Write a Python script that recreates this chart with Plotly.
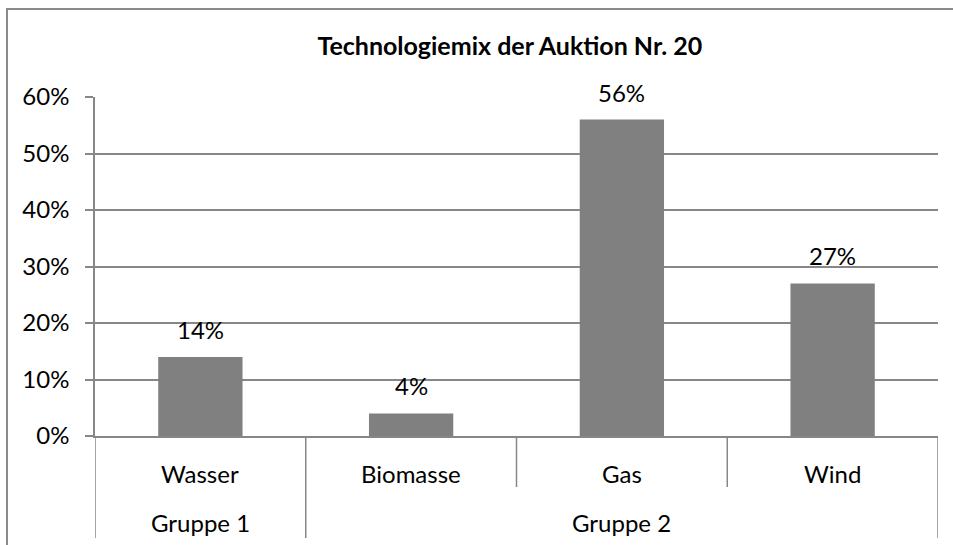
import plotly.graph_objects as go

groups = ["Gruppe 1", "Gruppe 2", "Gruppe 2", "Gruppe 2"]
categories = ["Wasser", "Biomasse", "Gas", "Wind"]
values = [0.14, 0.04, 0.56, 0.27]
labels = ["14%", "4%", "56%", "27%"]
y_ticks = [0, 0.1, 0.2, 0.3, 0.4, 0.5, 0.6]
y_tick_text = ["0%", "10%", "20%", "30%", "40%", "50%", "60%"]
title = "Technologiemix der Auktion Nr. 20"

FONT = "Lato, 'Open Sans', sans-serif"
GRID = "#878787"
FS = 24

fig = go.Figure(go.Bar(
    x=categories, y=values,
    marker=dict(color="#808080", line=dict(width=0)),
    width=0.4,
))

annotations = []
# data labels
for c, v, t in zip(categories, values, labels):
    annotations.append(dict(x=c, y=v, xref="x", yref="y", text=t, showarrow=False,
                            yanchor="bottom", yshift=11,
                            font=dict(size=FS, family=FONT, color="#000000")))
# category labels
for c in categories:
    annotations.append(dict(x=c, y=-37 / 339, xref="x", yref="paper", text=c, showarrow=False,
                            yanchor="middle", font=dict(size=FS, family=FONT, color="#000000")))
# group labels and boundaries
shapes = []
unique_groups = []
for i, g in enumerate(groups):
    if not unique_groups or unique_groups[-1][0] != g:
        unique_groups.append([g, i, i])
    else:
        unique_groups[-1][2] = i
group_bounds = {-0.5}
for g, i0, i1 in unique_groups:
    annotations.append(dict(x=(i0 + i1) / 2, y=-86 / 339, xref="x", yref="paper", text=g,
                            showarrow=False, yanchor="middle",
                            font=dict(size=FS, family=FONT, color="#000000")))
    group_bounds.add(i1 + 0.5)
for k in range(len(categories) + 1):
    b = k - 0.5
    low = -102 / 339 if b in group_bounds else -51 / 339
    shapes.append(dict(type="line", xref="x", yref="paper", x0=b, x1=b, y0=0, y1=low,
                       line=dict(color=GRID, width=1.5)))

# outer chart border: left and top edges
shapes.append(dict(type="line", xref="paper", yref="paper",
                   x0=-88 / 843, x1=-88 / 843, y0=-0.5, y1=1 + 88 / 339,
                   line=dict(color="#8a8a8a", width=2), layer="above"))
shapes.append(dict(type="line", xref="paper", yref="paper",
                   x0=-89 / 843, x1=1.02, y0=1 + 88 / 339, y1=1 + 88 / 339,
                   line=dict(color="#8a8a8a", width=2), layer="above"))

fig.update_layout(
    width=953, height=545,
    margin=dict(l=95, r=15, t=97, b=109),
    paper_bgcolor="white", plot_bgcolor="white",
    showlegend=False,
    font=dict(family=FONT, size=FS, color="#000000"),
    title=dict(text="<b>" + title + "</b>", x=0.535, xanchor="center",
               y=1 - 46 / 545, yanchor="middle",
               font=dict(size=25, family=FONT, color="#000000")),
    xaxis=dict(type="category", range=[-0.5, len(categories) - 0.5],
               showline=True, linecolor=GRID, linewidth=1.5,
               showticklabels=False, ticks="", showgrid=False, fixedrange=True),
    yaxis=dict(range=[0, 0.6], tickvals=y_ticks, ticktext=y_tick_text,
               showgrid=True, gridcolor=GRID, gridwidth=1.5,
               showline=True, linecolor=GRID, linewidth=1.5,
               ticks="outside", ticklen=8, tickcolor=GRID, tickwidth=1.5,
               ticklabelstandoff=11,
               tickfont=dict(size=FS, family=FONT, color="#000000"),
               zeroline=False, fixedrange=True),
    annotations=annotations,
    shapes=shapes,
)

fig.write_html("out.html", config={"displayModeBar": False},
               post_script="document.body.style.margin='0';document.body.style.overflow='hidden';")
